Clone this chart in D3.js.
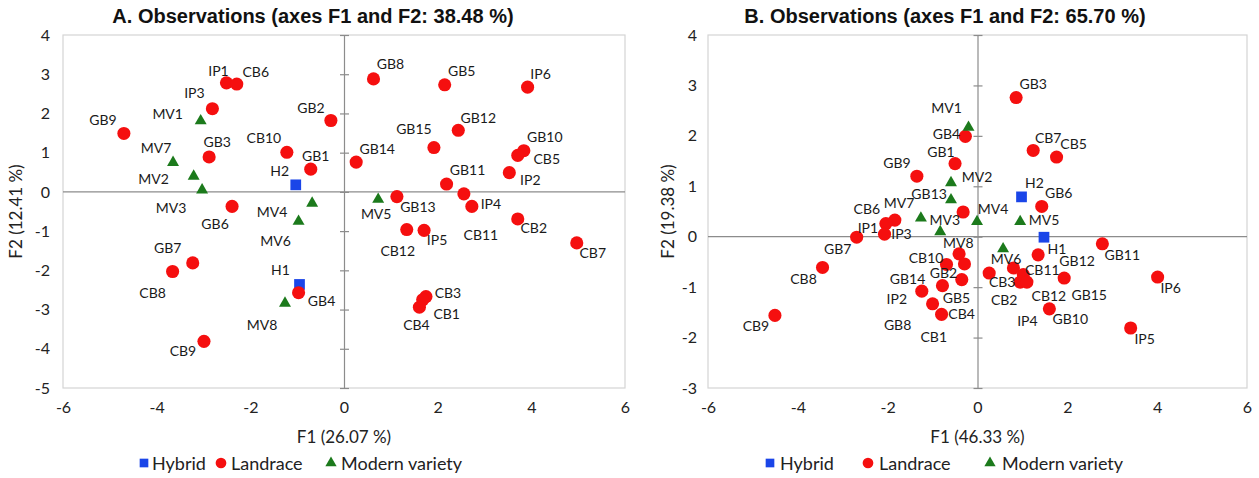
<!DOCTYPE html>
<html>
<head>
<meta charset="utf-8">
<script src="https://cdn.jsdelivr.net/npm/d3@7"></script>
<style>
  html, body { margin: 0; padding: 0; background: #fff; }
  svg { display: block; }
</style>
</head>
<body>
<svg id="chart" width="1259" height="478"></svg>
<script>
// ---------------- DATA ----------------
const groupNames = ["Hybrid", "Landrace", "Modern variety"];
const xTicks = [-6, -4, -2, 0, 2, 4, 6];
const yTicksA = [-5, -4, -3, -2, -1, 0, 1, 2, 3, 4];
const yTicksB = [-3, -2, -1, 0, 1, 2, 3, 4];

// Panel A observations
const namesA = ["IP1","CB6","IP3","MV1","GB9","GB2","GB3","CB10","GB1","MV7","MV2","MV3","H2","GB6","MV4","MV6","GB7","CB8","H1","GB4","MV8","CB9","GB8","GB5","IP6","GB12","GB15","GB14","GB10","CB5","IP2","GB11","CB11","IP4","MV5","GB13","CB2","CB7","CB12","IP5","CB3","CB1","CB4"];
const groupsA = ["Landrace","Landrace","Landrace","Modern variety","Landrace","Landrace","Landrace","Landrace","Landrace","Modern variety","Modern variety","Modern variety","Hybrid","Landrace","Modern variety","Modern variety","Landrace","Landrace","Hybrid","Landrace","Modern variety","Landrace","Landrace","Landrace","Landrace","Landrace","Landrace","Landrace","Landrace","Landrace","Landrace","Landrace","Landrace","Landrace","Modern variety","Landrace","Landrace","Landrace","Landrace","Landrace","Landrace","Landrace","Landrace"];
const f1A = [-2.51,-2.29,-2.81,-3.06,-4.70,-0.28,-2.88,-1.22,-0.71,-3.65,-3.21,-3.03,-1.03,-2.39,-0.68,-0.97,-3.23,-3.66,-0.95,-0.97,-1.26,-2.99,0.63,2.15,3.92,2.44,1.92,0.26,3.84,3.71,3.53,2.19,2.56,2.73,0.73,1.13,3.71,4.97,1.34,1.71,1.75,1.68,1.61];
const f2A = [2.78,2.75,2.12,1.81,1.49,1.82,0.89,1.01,0.58,0.75,0.40,0.05,0.18,-0.37,-0.29,-0.75,-1.81,-2.03,-2.36,-2.57,-2.84,-3.81,2.88,2.73,2.67,1.57,1.13,0.76,1.05,0.93,0.49,0.20,-0.05,-0.37,-0.19,-0.12,-0.69,-1.30,-0.96,-0.98,-2.67,-2.75,-2.94];

// Panel B observations
const namesB = ["GB3","CB7","CB5","MV1","GB4","GB1","GB9","MV2","MV7","GB13","MV3","MV8","MV4","CB6","IP1","IP3","GB7","CB8","CB9","CB10","GB14","GB2","GB5","IP2","GB8","CB4","CB1","H2","GB6","MV5","H1","MV6","GB11","GB12","IP4","CB3","CB11","CB2","CB12","GB15","GB10","IP6","IP5"];
const groupsB = ["Landrace","Landrace","Landrace","Modern variety","Landrace","Landrace","Landrace","Modern variety","Modern variety","Landrace","Modern variety","Modern variety","Modern variety","Landrace","Landrace","Landrace","Landrace","Landrace","Landrace","Landrace","Landrace","Landrace","Landrace","Landrace","Landrace","Landrace","Landrace","Hybrid","Landrace","Modern variety","Hybrid","Modern variety","Landrace","Landrace","Landrace","Landrace","Landrace","Landrace","Landrace","Landrace","Landrace","Landrace","Landrace"];
const f1B = [0.86,1.24,1.76,-0.20,-0.27,-0.50,-1.35,-0.59,-0.59,-0.32,-1.26,-0.83,-0.01,-1.84,-2.04,-2.07,-2.69,-3.45,-4.51,-0.41,-0.69,-0.29,-0.78,-1.24,-1.00,-0.80,-0.35,0.98,1.43,0.95,1.48,0.57,2.78,1.35,0.80,0.26,1.02,0.95,1.10,1.93,1.60,4.01,3.41];
const f2B = [2.76,1.71,1.58,2.17,1.99,1.45,1.20,1.07,0.73,0.49,0.37,0.10,0.30,0.33,0.26,0.05,-0.01,-0.61,-1.56,-0.34,-0.55,-0.54,-0.97,-1.08,-1.33,-1.54,-0.85,0.79,0.60,0.30,-0.01,-0.24,-0.14,-0.36,-0.62,-0.72,-0.75,-0.90,-0.90,-0.82,-1.43,-0.80,-1.81];

// ---------------- LAYOUT (label offsets in px, not data) ----------------
const labelOffA = [[-8,-12],[19,-13],[-18,-16],[-33,-7],[-21,-14],[-20,-13],[8,-15],[-23,-15],[5,-14],[-17,-15],[-40,2],[-31,18],[-16,-14],[-17,17],[-40,8],[-23,19],[-25,-15],[-20,21],[-19,-15],[23,8],[-23,21],[-21,9],[17,-15],[17,-14],[13,-14],[20,-13],[-20,-19],[21,-14],[21,-14],[29,3],[21,7],[21,-15],[17,41],[19,-3],[-2,14],[21,10],[16,9],[16,10],[-9,21],[13,9],[22,-4],[24,14],[-3,17]];
const labelOffB = [[17,-14],[15,-13],[17,-14],[-22,-20],[-19,-3],[-14,-12],[-20,-14],[26,-6],[-52,3],[-34,-19],[24,1],[18,11],[16,-13],[-28,-12],[-18,4],[17,-1],[-19,11],[-19,11],[-19,10],[-33,4],[-39,14],[-21,9],[14,12],[-25,7],[-35,21],[20,-1],[-28,57],[13,-14],[17,-14],[24,-2],[13,11],[3,10],[20,11],[39,6],[14,53],[13,8],[19,-5],[-16,17],[22,13],[25,16],[21,10],[13,10],[14,11]];

const colors = {"Hybrid": "#1a45e8", "Landrace": "#f50f0f", "Modern variety": "#1c7a1c"};
const symbols = {"Hybrid": d3.symbolSquare, "Landrace": d3.symbolCircle, "Modern variety": d3.symbolTriangle};
const sizes = {"Hybrid": 115, "Landrace": 135, "Modern variety": 62};

const svg = d3.select("#chart");
const labelFont = "Lato, 'Open Sans', sans-serif";
const intFmt = d => String(d);

function panel(cfg) {
  const x = d3.scaleLinear().domain([-6, 6]).range([cfg.left, cfg.right]);
  const y = d3.scaleLinear().domain(cfg.yDomain).range([cfg.bottom, cfg.top]);
  const g = svg.append("g");

  // plot border
  g.append("rect").attr("x", cfg.left).attr("y", cfg.top)
    .attr("width", cfg.right - cfg.left).attr("height", cfg.bottom - cfg.top)
    .attr("fill", "none").attr("stroke", "#d4d4d4").attr("stroke-width", 1.2);

  // zero lines
  g.append("line").attr("x1", cfg.left).attr("x2", cfg.right)
    .attr("y1", y(0)).attr("y2", y(0)).attr("stroke", "#8c8c8c").attr("stroke-width", 1.2);
  const vAxis = d3.axisRight(y).tickValues(cfg.yTicks).tickSize(0).tickFormat("");
  const va = g.append("g").attr("transform", `translate(${x(0)},0)`).call(vAxis);
  va.select(".domain").attr("stroke", "#8c8c8c").attr("stroke-width", 1.2);
  va.selectAll(".tick line").attr("x1", -4).attr("x2", 5).attr("stroke", "#8c8c8c").attr("stroke-width", 1.2);

  // y tick labels
  const yAx = d3.axisLeft(y).tickValues(cfg.yTicks).tickSize(0).tickPadding(0).tickFormat(intFmt);
  const ya = g.append("g").attr("transform", `translate(${cfg.yLabelX},0)`).call(yAx);
  ya.select(".domain").remove();
  ya.selectAll("text").attr("font-family", labelFont).attr("font-size", 16).attr("fill", "#222");

  // x tick labels
  const xAx = d3.axisBottom(x).tickValues(xTicks).tickSize(0).tickPadding(0).tickFormat(intFmt);
  const xa = g.append("g").attr("transform", `translate(0,${cfg.xLabelY})`).call(xAx);
  xa.select(".domain").remove();
  xa.selectAll("text").attr("font-family", labelFont).attr("font-size", 16).attr("fill", "#222");

  // axis titles
  g.append("text").attr("x", (cfg.left + cfg.right) / 2).attr("y", 443)
    .attr("text-anchor", "middle").attr("font-family", labelFont).attr("font-size", 17)
    .attr("fill", "#222").text(cfg.xTitle);
  g.append("text").attr("transform", `translate(${cfg.yTitleX},${(cfg.top + cfg.bottom) / 2}) rotate(-90)`)
    .attr("text-anchor", "middle").attr("font-family", labelFont).attr("font-size", 17)
    .attr("fill", "#222").text(cfg.yTitle);

  // title
  g.append("text").attr("x", cfg.titleX).attr("y", 23).attr("text-anchor", "middle")
    .attr("font-family", "'Liberation Sans Narrow', 'Liberation Sans', Arial, sans-serif")
    .attr("font-weight", "bold").attr("font-size", 20).attr("fill", "#111").text(cfg.title);

  // points
  const data = cfg.names.map((n, i) => ({name: n, group: cfg.groups[i], f1: cfg.f1[i], f2: cfg.f2[i], off: cfg.off[i]}));
  const order = {"Hybrid": 0, "Landrace": 1, "Modern variety": 2};
  const sorted = data.slice().sort((a, b) => order[a.group] - order[b.group]);
  g.append("g").selectAll("path").data(sorted).join("path")
    .attr("transform", d => `translate(${x(d.f1)},${y(d.f2)})`)
    .attr("d", d => d3.symbol().type(symbols[d.group]).size(sizes[d.group])())
    .attr("fill", d => colors[d.group]);

  g.append("g").selectAll("text").data(data).join("text")
    .attr("x", d => x(d.f1) + d.off[0]).attr("y", d => y(d.f2) + d.off[1])
    .attr("text-anchor", "middle").attr("dominant-baseline", "central")
    .attr("font-family", labelFont).attr("font-size", 14).attr("fill", "#1a1a1a")
    .text(d => d.name);

  // legend
  const lg = g.append("g");
  cfg.legend.forEach((item, i) => {
    const grp = groupNames[i];
    lg.append("path").attr("transform", `translate(${item[0]},463)`)
      .attr("d", d3.symbol().type(symbols[grp]).size(grp === "Modern variety" ? 55 : (grp === "Hybrid" ? 75 : 90))())
      .attr("fill", colors[grp]);
    lg.append("text").attr("x", item[1]).attr("y", 463).attr("dominant-baseline", "central")
      .attr("font-family", labelFont).attr("font-size", 18).attr("fill", "#222").text(grp);
  });
}

panel({
  left: 63, right: 625, top: 35, bottom: 388, yDomain: [-5, 4], yTicks: yTicksA,
  yLabelX: 50, xLabelY: 402, yTitleX: 22, titleX: 313,
  xTitle: "F1 (26.07 %)", yTitle: "F2 (12.41 %)",
  title: "A. Observations (axes F1 and F2: 38.48 %)",
  names: namesA, groups: groupsA, f1: f1A, f2: f2A, off: labelOffA,
  legend: [[144, 152], [221, 231], [331, 341]]
});

panel({
  left: 708, right: 1247, top: 35, bottom: 388, yDomain: [-3, 4], yTicks: yTicksB,
  yLabelX: 697, xLabelY: 402, yTitleX: 674, titleX: 945,
  xTitle: "F1 (46.33 %)", yTitle: "F2 (19.38 %)",
  title: "B. Observations (axes F1 and F2: 65.70 %)",
  names: namesB, groups: groupsB, f1: f1B, f2: f2B, off: labelOffB,
  legend: [[770, 780], [868, 879], [990, 1002]]
});
</script>
</body>
</html>
